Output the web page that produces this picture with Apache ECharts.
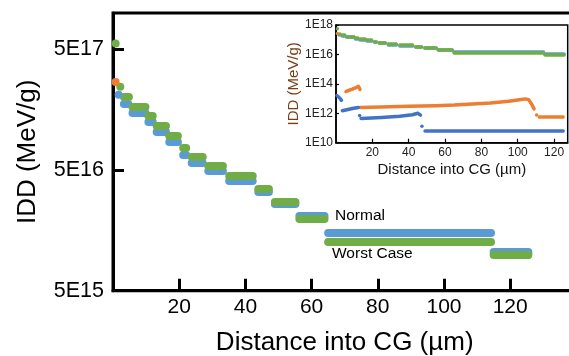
<!DOCTYPE html>
<html>
<head>
<meta charset="utf-8">
<script src="https://cdn.jsdelivr.net/npm/echarts@6/dist/echarts.min.js"></script>
<style>html,body{margin:0;padding:0;background:#fff}#c{width:569px;height:356px}</style>
</head>
<body>
<div id="c"></div>
<script>
// ---------- tick labels ----------
const mainYTicks = [5e15, 5e16, 5e17];
const xTicks = [20, 40, 60, 80, 100, 120];
const insetYTicks = [1e10, 1e12, 1e14, 1e16, 1e18];

// ---------- Worst Case (green) : step segments ----------
const worstStart = [3.3, 5.9, 10.7, 13.2, 17.0, 21.2, 23.8, 28.8, 35.1, 43.9, 48.9, 56.3, 65.0, 115.0];
const worstEnd   = [4.8, 9.8, 12.0, 16.0, 19.6, 22.1, 27.1, 33.2, 42.2, 47.1, 55.1, 63.9, 114.2, 125.5];
const worstValue = [2.03e17, 1.66e17, 1.40e17, 1.17e17, 9.7e16, 7.7e16, 6.5e16, 5.4e16, 4.45e16, 3.5e16, 2.73e16, 1.98e16, 1.27e16, 1.0e16];
const worstDotX = [0.8, 2.2];
const worstDotV = [5.6e17, 2.45e17];

// ---------- Normal (blue) : step segments ----------
const normalStart = [3.3, 5.9, 10.7, 13.2, 17.0, 21.2, 23.8, 28.8, 35.1, 43.9, 48.9, 56.3, 65.0, 115.0];
const normalEnd   = [4.6, 9.8, 12.0, 16.0, 19.6, 22.1, 27.1, 33.2, 42.2, 47.1, 55.1, 63.9, 114.2, 125.5];
const normalValue = [1.78e17, 1.48e17, 1.25e17, 1.03e17, 8.5e16, 6.75e16, 5.75e16, 4.9e16, 4.05e16, 3.3e16, 2.63e16, 2.08e16, 1.51e16, 1.05e16];
const normalDotX = [1.7];
const normalDotV = [2.1e17];

// ---------- orange point at surface ----------
const orangeDotX = [0.8];
const orangeDotV = [2.68e17];

// ---------- inset low-dose curves ----------
const orangeLowA = [[5.5, 3.0e13], [7, 3.6e13], [9, 4.4e13], [11, 5.6e13], [12.3, 6.8e13], [13.2, 4.2e13]];
const orangeLowB = [[13.5, 2.5e12], [25, 2.7e12], [40, 3.0e12], [55, 3.3e12], [65, 3.6e12], [75, 4.2e12], [85, 5.0e12], [95, 6.5e12], [100, 8.0e12], [104, 9.5e12], [106, 8.5e12], [107.5, 4.5e12], [109, 2.0e12]];
const orangeLowDots = [[110.4, 7.6e11]];
const orangeLowC = [[111.8, 5.5e11], [125, 5.5e11]];
const blueLowA = [[0.5, 1.6e13], [2, 1.1e13], [3, 7.5e12]];
const blueLowB = [[3.5, 1.5e12], [6, 1.75e12], [9, 2.1e12], [12.3, 2.5e12]];
const blueLowDots = [[13, 7e11], [47.3, 1.3e11]];
const blueLowC = [[13.8, 4.5e11], [25, 5.2e11], [35, 6.3e11], [42, 8e11], [45, 1e12], [46.5, 7.5e11]];
const blueLowD = [[49, 6.3e10], [125, 6.3e10]];

// ---------- styles ----------
const FONT = 'Liberation Sans, Arial, sans-serif';
const BLUE = '#5B9BD5', GREEN = '#70AD47', ORANGE = '#ED7D31', DBLUE = '#4472C4';

function segData(s, e, v) { return s.map((x, i) => ({ coords: [[x, v[i]], [e[i], v[i]]] })); }
function pts(xs, vs) { return xs.map((x, i) => [x, vs[i]]); }
function fmtE(v) {
  let e = Math.floor(Math.log10(v) + 1e-6);
  let m = Math.round(v / Math.pow(10, e));
  if (m >= 10) { m = m / 10; e += 1; }
  return m + 'E' + e;
}
function segSeries(data, color, w, xi) {
  return { type: 'lines', coordinateSystem: 'cartesian2d', xAxisIndex: xi, yAxisIndex: xi,
    polyline: false, data: data, silent: true,
    lineStyle: { color: color, width: w, cap: 'round', opacity: 1 } };
}
function dotSeries(data, color, size, xi) {
  return { type: 'scatter', xAxisIndex: xi, yAxisIndex: xi, data: data, symbol: 'circle',
    symbolSize: size, silent: true, itemStyle: { color: color, opacity: 1, borderWidth: 0 } };
}
function curveSeries(data, color, w) {
  return { type: 'line', xAxisIndex: 1, yAxisIndex: 1, data: data, showSymbol: false, silent: true,
    lineStyle: { color: color, width: w, cap: 'round', join: 'round' } };
}

const chart = echarts.init(document.getElementById('c'), null, { renderer: 'canvas' });
chart.setOption({
  animation: false,
  backgroundColor: '#fff',
  grid: [
    { left: 113, top: 13, right: -7.4, bottom: 65.3, show: true, borderColor: '#000', borderWidth: 3,
      backgroundColor: 'transparent', containLabel: false, outerBoundsMode: 'none' },
    { left: 336, top: 25, right: 1.3, bottom: 213.3, show: true, borderColor: '#000', borderWidth: 1.5,
      backgroundColor: 'transparent', containLabel: false, outerBoundsMode: 'none' }
  ],
  xAxis: [
    { type: 'value', gridIndex: 0, min: 0, max: 140,
      name: 'Distance into CG (µm)', nameLocation: 'middle', nameGap: 39,
      nameTextStyle: { fontFamily: FONT, fontSize: 26, color: '#000' },
      axisLine: { show: true, lineStyle: { color: '#000', width: 3 } },
      axisTick: { show: true, inside: true, length: 12, customValues: xTicks, lineStyle: { color: '#000', width: 3 } },
      axisLabel: { show: true, customValues: xTicks, margin: 6, fontFamily: FONT, fontSize: 21, color: '#000' },
      splitLine: { show: false } },
    { type: 'value', gridIndex: 1, min: 0, max: 127.5,
      name: 'Distance into CG (µm)', nameLocation: 'middle', nameGap: 20,
      nameTextStyle: { fontFamily: FONT, fontSize: 15, color: '#111' },
      axisLine: { show: true, lineStyle: { color: '#000', width: 1.5 } },
      axisTick: { show: true, inside: true, length: 4, customValues: xTicks, lineStyle: { color: '#000', width: 1.2 } },
      axisLabel: { show: true, customValues: xTicks, margin: 4, fontFamily: FONT, fontSize: 12, color: '#222' },
      splitLine: { show: false } }
  ],
  yAxis: [
    { type: 'log', gridIndex: 0, min: 5e15, max: 1e18, logBase: 10,
      name: 'IDD (MeV/g)', nameLocation: 'middle', nameGap: 72,
      nameTextStyle: { fontFamily: FONT, fontSize: 26, color: '#000' },
      axisLine: { show: true, lineStyle: { color: '#000', width: 3 } },
      axisTick: { show: true, inside: true, length: 11, customValues: mainYTicks, lineStyle: { color: '#000', width: 3 } },
      axisLabel: { show: true, customValues: mainYTicks, margin: 9, fontFamily: FONT, fontSize: 21.5, color: '#000', formatter: fmtE },
      splitLine: { show: false } },
    { type: 'log', gridIndex: 1, min: 1e10, max: 1.000001e18, logBase: 10,
      name: 'IDD (MeV/g)', nameLocation: 'middle', nameGap: 26,
      nameTextStyle: { fontFamily: FONT, fontSize: 15, color: '#7a3e16' },
      axisLine: { show: true, lineStyle: { color: '#000', width: 1.5 } },
      axisTick: { show: true, inside: true, length: 3, customValues: insetYTicks, lineStyle: { color: '#000', width: 1.2 } },
      axisLabel: { show: true, customValues: insetYTicks, margin: 3, fontFamily: FONT, fontSize: 12, color: '#222', formatter: fmtE },
      splitLine: { show: false } }
  ],
  graphic: [
    { type: 'text', left: 335, top: 217 - 9, style: { text: 'Normal', fontFamily: FONT, fontSize: 15.5, fill: '#000' } },
    { type: 'text', left: 332, top: 255 - 9, style: { text: 'Worst Case', fontFamily: FONT, fontSize: 15.5, fill: '#000' } }
  ],
  series: [
    // main chart
    segSeries(segData(normalStart, normalEnd, normalValue), BLUE, 8, 0),
    dotSeries(pts(normalDotX, normalDotV), BLUE, 8, 0),
    segSeries(segData(worstStart, worstEnd, worstValue), GREEN, 8, 0),
    dotSeries(pts(worstDotX, worstDotV), GREEN, 8, 0),
    dotSeries(pts(orangeDotX, orangeDotV), ORANGE, 8, 0),
    // inset: same high-dose data
    segSeries(segData(normalStart, normalEnd, normalValue), BLUE, 3.5, 1),
    dotSeries(pts(normalDotX, normalDotV), BLUE, 3.5, 1),
    segSeries(segData(worstStart, worstEnd, worstValue), GREEN, 3.5, 1),
    dotSeries(pts(worstDotX, worstDotV), GREEN, 3.5, 1),
    dotSeries(pts(orangeDotX, orangeDotV), ORANGE, 3.5, 1),
    // inset: low-dose curves
    curveSeries(orangeLowA, ORANGE, 3.5),
    curveSeries(orangeLowB, ORANGE, 3.5),
    dotSeries(orangeLowDots, ORANGE, 3.5, 1),
    curveSeries(orangeLowC, ORANGE, 3.5),
    curveSeries(blueLowA, DBLUE, 3.5),
    curveSeries(blueLowB, DBLUE, 3.5),
    dotSeries(blueLowDots, DBLUE, 3.5, 1),
    curveSeries(blueLowC, DBLUE, 3.5),
    curveSeries(blueLowD, DBLUE, 3.5)
  ]
});
</script>
</body>
</html>
